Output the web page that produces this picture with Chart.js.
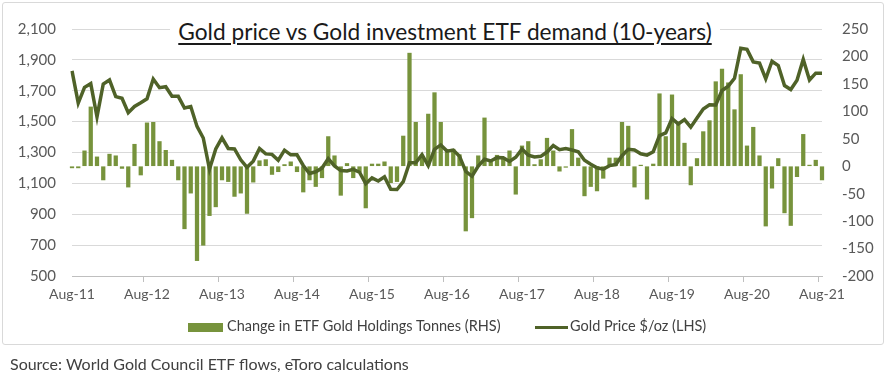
<!DOCTYPE html>
<html>
<head>
<meta charset="utf-8">
<title>Gold price vs Gold investment ETF demand</title>
<script src="https://cdn.jsdelivr.net/npm/chart.js"></script>
<style>
  body { margin: 0; background: #fff; font-family: Lato, "Open Sans", sans-serif; }
  #page { position: relative; width: 890px; height: 373px; overflow: hidden; }
  #frame { position: absolute; left: 2px; top: 2px; width: 880px; height: 341px; border: 1px solid #d9d9d9; border-radius: 3px; }
  #wrap { position: absolute; left: 0; top: 0; width: 890px; height: 373px; }
  #title { position: absolute; top: 15px; left: 170px; width: 550px; height: 35px; background: #fff; text-align: center;
           font-size: 22.7px; line-height: 33px; color: #1a1a1a; text-decoration: underline; text-underline-offset: 3px; }
  .legend { position: absolute; top: 317px; font-size: 14.5px; color: #404040; white-space: nowrap; }
  #source { position: absolute; left: 10px; top: 354px; font-size: 16px; color: #404040; white-space: nowrap; }
</style>
</head>
<body>
<div id="page">
  <div id="frame"></div>
  <div id="wrap"><canvas id="goldChart" width="890" height="373"></canvas></div>
  <div id="title">Gold price vs Gold investment ETF demand (10-years)</div>
  <div class="legend" style="left:188px;"><span style="display:inline-block;width:35px;height:9px;background:#77933C;vertical-align:middle;margin-right:4px;"></span>Change in ETF Gold Holdings Tonnes (RHS)</div>
  <div class="legend" style="left:535px;"><span style="display:inline-block;width:33px;height:3px;background:#4F6228;vertical-align:middle;margin-right:2px;"></span>Gold Price $/oz (LHS)</div>
  <div id="source">Source: World Gold Council ETF flows, eToro calculations</div>
</div>
<script>
// tick labels shown on the date axis (one per year)
const tickLabels = ['Aug-11', 'Aug-12', 'Aug-13', 'Aug-14', 'Aug-15', 'Aug-16',
                    'Aug-17', 'Aug-18', 'Aug-19', 'Aug-20', 'Aug-21'];

// monthly categories Aug-11 .. Aug-21
const monthNames = ['Jan','Feb','Mar','Apr','May','Jun','Jul','Aug','Sep','Oct','Nov','Dec'];
const months = [];
for (let k = 0; k < 121; k++) {
  const m = (7 + k) % 12;
  const y = 11 + Math.floor((7 + k) / 12);
  months.push(monthNames[m] + '-' + y);
}

// gold price, $/oz (LHS), month end
const goldPrice = [
  1829, 1620, 1722, 1746, 1531,
  1744, 1770, 1662, 1651, 1558, 1598, 1622, 1648, 1776, 1720, 1726, 1664,
  1664, 1588, 1598, 1469, 1394, 1192, 1323, 1395, 1326, 1323, 1253, 1204,
  1244, 1326, 1291, 1288, 1250, 1315, 1285, 1285, 1216, 1164, 1175, 1199,
  1260, 1213, 1183, 1180, 1191, 1172, 1098, 1135, 1115, 1142, 1062, 1060,
  1111, 1234, 1233, 1286, 1215, 1321, 1349, 1309, 1316, 1276, 1178, 1146,
  1212, 1256, 1245, 1267, 1266, 1242, 1269, 1322, 1283, 1271, 1275, 1303,
  1345, 1318, 1325, 1316, 1305, 1250, 1224, 1201, 1192, 1215, 1222, 1279,
  1321, 1316, 1292, 1283, 1305, 1409, 1427, 1520, 1485, 1513, 1464, 1523,
  1582, 1609, 1608, 1702, 1730, 1781, 1975, 1968, 1887, 1879, 1777, 1891,
  1863, 1734, 1708, 1768, 1903, 1770, 1814, 1814
];

// change in ETF gold holdings, tonnes (RHS)
const etfChange = [
  -3, -3, 28, 108, 17,
  -25, 22, 19, -4, -38, 40, -16, 79, 80, 45, 29, 11,
  -25, -114, -49, -172, -144, -90, -74, -25, -28, -55, -49, -86,
  -29, 10, 12, -15, -10, 3, 8, -10, -47, -25, -37, -21,
  54, 19, -53, 5, -21, -11, -76, 4, 4, 8, -30, -28,
  55, 206, 80, 18, 95, 134, 80, 30, 31, 21, -118, -94,
  19, 88, 8, 20, 14, 28, -51, 37, 45, 3, 12, 51,
  28, -9, -2, 67, 15, -54, -37, -45, -22, 15, 15, 80,
  73, -38, 2, -60, 4, 132, 54, 130, 76, 42, -34, 14,
  63, 83, 154, 177, 152, 103, 167, 37, 71, 19, -109, -40,
  14, -85, -108, -19, 58, 2, 11, -25
];

const tickFont = { family: 'Lato, "Open Sans", sans-serif', size: 15 };
const axisGrey = '#bfbfbf';

new Chart(document.getElementById('goldChart'), {
  data: {
    labels: months,
    datasets: [
      {
        type: 'line',
        label: 'Gold Price $/oz (LHS)',
        data: goldPrice,
        yAxisID: 'y',
        borderColor: '#4F6228',
        borderWidth: 3.5,
        pointRadius: 0,
        tension: 0,
        order: 0
      },
      {
        type: 'bar',
        label: 'Change in ETF Gold Holdings Tonnes (RHS)',
        data: etfChange,
        yAxisID: 'y1',
        backgroundColor: '#77933C',
        barThickness: 3.6,
        clip: false,
        order: 1
      }
    ]
  },
  options: {
    responsive: false,
    animation: false,
    layout: { padding: { top: 22, bottom: 67, left: 0, right: 0 } },
    plugins: { legend: { display: false }, tooltip: { enabled: false } },
    scales: {
      x: {
        type: 'category',
        offset: false,
        border: { color: axisGrey },
        grid: {
          drawOnChartArea: false,
          tickLength: 6,
          color: ctx => (ctx.index % 12 === 0 ? axisGrey : 'rgba(0,0,0,0)')
        },
        ticks: {
          autoSkip: false,
          maxRotation: 0,
          padding: 4,
          color: '#595959',
          font: { family: tickFont.family, size: 14 },
          callback: (v, i) => (i % 12 === 0 ? tickLabels[i / 12] : '')
        },
        afterFit: s => { s.height = 30; }
      },
      y: {
        position: 'left',
        min: 500,
        max: 2100,
        border: { display: false },
        grid: { color: '#d9d9d9', drawTicks: false },
        ticks: {
          stepSize: 200,
          padding: 16,
          color: '#595959',
          font: tickFont,
          callback: v => v.toLocaleString('en-US')
        },
        afterFit: s => { s.width = 72; }
      },
      y1: {
        position: 'right',
        min: -200,
        max: 250,
        border: { display: false },
        grid: { drawOnChartArea: false, drawTicks: false },
        ticks: { stepSize: 50, padding: 20, color: '#595959', font: tickFont },
        afterFit: s => { s.width = 68; }
      }
    }
  }
});
</script>
</body>
</html>
